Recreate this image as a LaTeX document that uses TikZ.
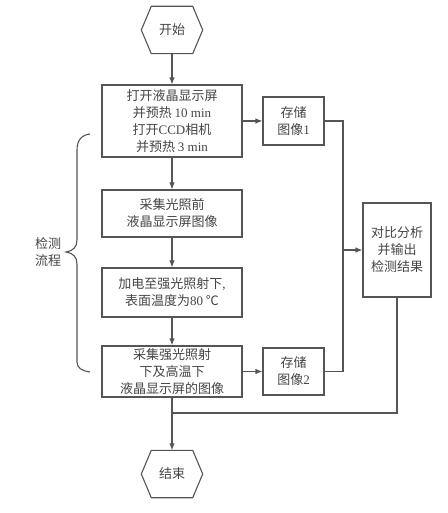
\documentclass[tikz,border=0pt]{standalone}
\usepackage{fontspec}
\setmainfont{Noto Sans CJK SC}
\newfontfamily\lat{Liberation Serif}
\usetikzlibrary{arrows.meta}
\definecolor{ln}{HTML}{555555}
\definecolor{tx}{HTML}{454545}
\begin{document}
\begin{tikzpicture}[x=1pt,y=-1pt,
  every node/.style={text=tx,font=\fontsize{13}{17}\selectfont,align=center,inner sep=0pt},
  box/.style={draw=ln,line width=1.1pt,minimum width=140pt},
  sbox/.style={draw=ln,line width=1.1pt,minimum width=61pt},
  hexnode/.style={minimum width=61pt,minimum height=47pt},
  line/.style={draw=ln,line width=1.1pt},
  arr/.style={line,-{Latex[length=7pt,width=5.5pt]}}]
\useasboundingbox (0,0) rectangle (447,513);
\fill[white] (0,0) rectangle (447,513);
% nodes
\node[hexnode] (start) at (172,30) {开始};
\node[box,minimum height=72pt] (b1) at (172,121) {打开液晶显示屏\\并预热 {\lat 10 min}\\打开{\lat CCD}相机\\并预热 {\lat 3 min}};
\node[box,minimum height=47pt] (b2) at (172,213.5) {采集光照前\\液晶显示屏图像};
\node[box,minimum height=49pt] (b3) at (172,292.5) {加电至强光照射下{\lat ,}\\表面温度为{\lat 80} ℃};
\node[box,minimum height=51pt] (b4) at (172,371.5) {采集强光照射\\下及高温下\\液晶显示屏的图像};
\node[sbox,minimum height=48pt] (s1) at (293.5,121) {存储\\图像{\lat 1}};
\node[sbox,minimum height=47pt] (s2) at (293.5,371.5) {存储\\图像{\lat 2}};
\node[draw=ln,line width=1.1pt,minimum width=68pt,minimum height=94pt] (cmp) at (397,250) {对比分析\\并输出\\检测结果};
\node[hexnode] (end) at (172,474) {结束};
\node (lbl) at (48,252) {检测\\流程};
% hexagons
\foreach \h in {start,end}{
  \draw[line] (\h.west) -- ([xshift=10pt]\h.north west) -- ([xshift=-10pt]\h.north east)
    -- (\h.east) -- ([xshift=-10pt]\h.south east) -- ([xshift=10pt]\h.south west) -- cycle;
}
% coordinates
\coordinate (jt) at (343,121);
\coordinate (jb) at (343,371.5);
\coordinate (jm) at (343,250);
\coordinate (cb) at (397,413);
\coordinate (mb) at (172,413);
% connectors
\draw[arr] (start.south) -- (b1.north);
\draw[arr] (b1.south) -- (b2.north);
\draw[arr] (b2.south) -- (b3.north);
\draw[arr] (b3.south) -- (b4.north);
\draw[arr] (b4.south) -- (end.north);
\draw[arr] (b1.east) -- (s1.west);
\draw[arr] (b4.east) -- (s2.west);
\draw[line] (s1.east) -- (jt) -- (jb) -- (s2.east);
\draw[arr] (jm) -- (cmp.west);
\draw[line] (cmp.south) -- (cb) -- (mb);
% brace
\draw[line] (90,134) .. controls (81,135) and (77,141) .. (77,150) -- (77,240)
  .. controls (77,247) and (73,251) .. (66,252)
  .. controls (73,253) and (77,257) .. (77,264) -- (77,362)
  .. controls (77,368) and (82,371) .. (90,372);
\end{tikzpicture}
\end{document}
